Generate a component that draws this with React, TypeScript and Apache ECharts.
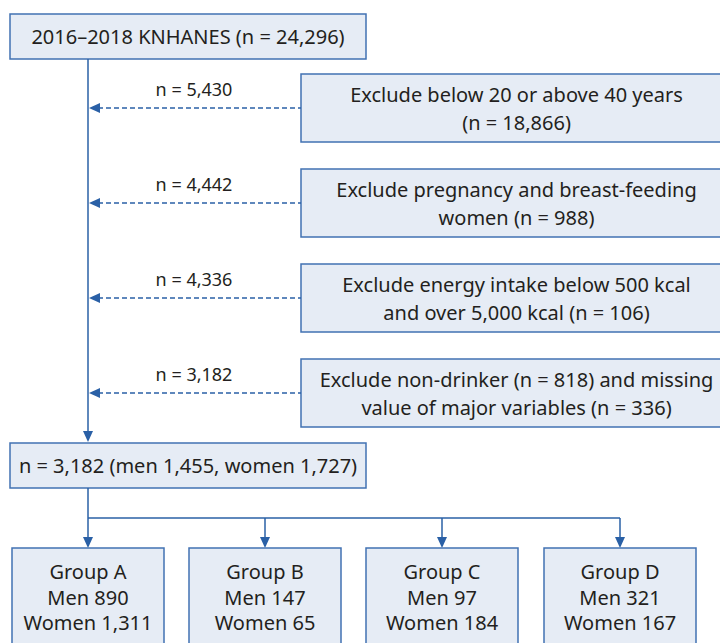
import React, { useEffect, useRef } from "react";
import * as echarts from "echarts";

const topText = "2016–2018 KNHANES (n = 24,296)";
const remainingCounts = ["n = 5,430", "n = 4,442", "n = 4,336", "n = 3,182"];
const exclusionTexts = [
  "Exclude below 20 or above 40 years\n(n = 18,866)",
  "Exclude pregnancy and breast-feeding\nwomen (n = 988)",
  "Exclude energy intake below 500 kcal\nand over 5,000 kcal (n = 106)",
  "Exclude non-drinker (n = 818) and missing\nvalue of major variables (n = 336)",
];
const finalText = "n = 3,182 (men 1,455, women 1,727)";
const groupNames = ["Group A", "Group B", "Group C", "Group D"];
const menCounts = ["890", "147", "97", "321"];
const womenCounts = ["1,311", "65", "184", "167"];

const FILL = "#e6ecf5";
const BORDER = "#4172b3";
const LINE = "#2a60a6";
const TEXT = "#231f20";
const FONT = "'Noto Sans', sans-serif";

function box(x: number, y: number, w: number, h: number, text: string, lh: number) {
  return [
    {
      type: "rect",
      shape: { x, y, width: w, height: h },
      style: { fill: FILL, stroke: BORDER, lineWidth: 1.5 },
    },
    {
      type: "text",
      x: x + w / 2,
      y: y + h / 2,
      style: {
        text,
        fill: TEXT,
        font: `20px ${FONT}`,
        align: "center",
        verticalAlign: "middle",
        lineHeight: lh,
      },
    },
  ];
}

function arrowDown(x: number, tipY: number) {
  return {
    type: "polygon",
    shape: { points: [[x - 5, tipY - 11], [x + 5, tipY - 11], [x, tipY]] },
    style: { fill: LINE },
  };
}
function arrowLeft(tipX: number, y: number) {
  return {
    type: "polygon",
    shape: { points: [[tipX, y], [tipX + 11, y - 5], [tipX + 11, y + 5]] },
    style: { fill: LINE },
  };
}

export default function App() {
  const ref = useRef<HTMLDivElement>(null);
  useEffect(() => {
    document.body.style.margin = "0";
    const chart = echarts.init(ref.current!, null, { renderer: "svg" });
    const spineX = 88;
    const els: any[] = [];
    els.push(...box(10, 14, 356, 45, topText, 24));
    els.push({ type: "line", shape: { x1: spineX, y1: 59, x2: spineX, y2: 432 }, style: { stroke: LINE, lineWidth: 1.5 } });
    els.push(arrowDown(spineX, 442));
    const exTops = [74, 169, 264, 359];
    exclusionTexts.forEach((t, i) => {
      const top = exTops[i];
      const ay = top + 34;
      els.push(...box(301, top, 431, 68, t, 28));
      els.push({
        type: "line",
        shape: { x1: 98, y1: ay, x2: 301, y2: ay },
        style: { stroke: LINE, lineWidth: 1.3, lineDash: [5, 3] },
      });
      els.push(arrowLeft(spineX + 1, ay));
      els.push({
        type: "text",
        x: 194,
        y: ay - 19,
        style: { text: remainingCounts[i], fill: TEXT, font: `18px ${FONT}`, align: "center", verticalAlign: "middle" },
      });
    });
    els.push(...box(10, 443, 356, 45, finalText, 24));
    const gx = [12, 189, 366, 544];
    const gw = 152;
    const centers = gx.map((x) => x + gw / 2);
    els.push({ type: "line", shape: { x1: spineX, y1: 488, x2: spineX, y2: 518 }, style: { stroke: LINE, lineWidth: 1.5 } });
    els.push({ type: "line", shape: { x1: spineX, y1: 518, x2: centers[3], y2: 518 }, style: { stroke: LINE, lineWidth: 1.5 } });
    centers.forEach((c) => {
      els.push({ type: "line", shape: { x1: c, y1: 518, x2: c, y2: 538 }, style: { stroke: LINE, lineWidth: 1.5 } });
      els.push(arrowDown(c, 548));
    });
    groupNames.forEach((g, i) => {
      els.push({
        type: "rect",
        shape: { x: gx[i], y: 548, width: gw, height: 120 },
        style: { fill: FILL, stroke: BORDER, lineWidth: 1.5 },
      });
      els.push({
        type: "text",
        x: centers[i],
        y: 597,
        style: {
          text: `${g}\nMen ${menCounts[i]}\nWomen ${womenCounts[i]}`,
          fill: TEXT,
          font: `20px ${FONT}`,
          align: "center",
          verticalAlign: "middle",
          lineHeight: 25.5,
        },
      });
    });
    chart.setOption({ animation: false, graphic: { elements: els } });
    return () => chart.dispose();
  }, []);
  return <div ref={ref} style={{ width: 720, height: 643 }} />;
}
